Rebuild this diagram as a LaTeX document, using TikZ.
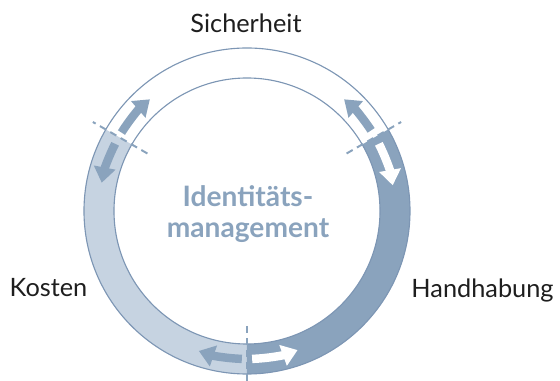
\documentclass[tikz,border=0pt]{standalone}
\usepackage{fontspec}
\setmainfont{Lato}
\usetikzlibrary{arrows.meta}
\definecolor{ringdark}{RGB}{138,163,189}
\definecolor{ringlight}{RGB}{198,211,225}
\definecolor{ringline}{RGB}{125,150,180}
\definecolor{labeltext}{RGB}{30,30,30}

\begin{document}
\begin{tikzpicture}[x=0.025cm,y=0.025cm,
  side/.style={font=\fontsize{18}{21}\selectfont,text=labeltext},
  centre/.style={font=\fontsize{20}{22}\selectfont\bfseries,text=ringdark,align=center},
  divider/.style={ringdark,line width=1.4pt,dash pattern=on 5pt off 3.5pt},
  flow/.style={line width=6pt,-{Triangle[width=15pt,length=11pt]}}]
  \useasboundingbox (-247,-170) rectangle (313,211);
  % bands
  \fill[ringlight] (150:163) arc[start angle=150,end angle=270,radius=163]
    -- (270:133) arc[start angle=270,end angle=150,radius=133] -- cycle;
  \fill[ringdark] (270:163) arc[start angle=270,end angle=390,radius=163]
    -- (30:133) arc[start angle=390,end angle=270,radius=133] -- cycle;
  \draw[ringline,line width=0.8pt] (0,0) circle[radius=163] (0,0) circle[radius=133];
  % borders
  \draw[divider] (150:115) -- (150:178);
  \draw[divider] (30:115) -- (30:178);
  \draw[divider] (270:115) -- (270:178);
  % arrows
  \draw[flow,ringdark] (148:148) arc[start angle=148,end angle=131,radius=148];
  \draw[flow,ringdark] (153:148) arc[start angle=153,end angle=169,radius=148];
  \draw[flow,ringdark] (33:148) arc[start angle=33,end angle=49,radius=148];
  \draw[flow,white] (27:148) arc[start angle=27,end angle=10,radius=148];
  \draw[flow,ringdark] (268:148) arc[start angle=268,end angle=251,radius=148];
  \draw[flow,white] (272:148) arc[start angle=272,end angle=290,radius=148];
  % texts
  \node[side] (sich) at (-1,187.5) {Sicherheit};
  \node[side] (kost) at (-198.5,-76.5) {Kosten};
  \node[side] (hand) at (235.5,-79) {Handhabung};
  \node[centre] (idm) at (1,-3) {Identitäts-\\management};
\end{tikzpicture}
\end{document}
